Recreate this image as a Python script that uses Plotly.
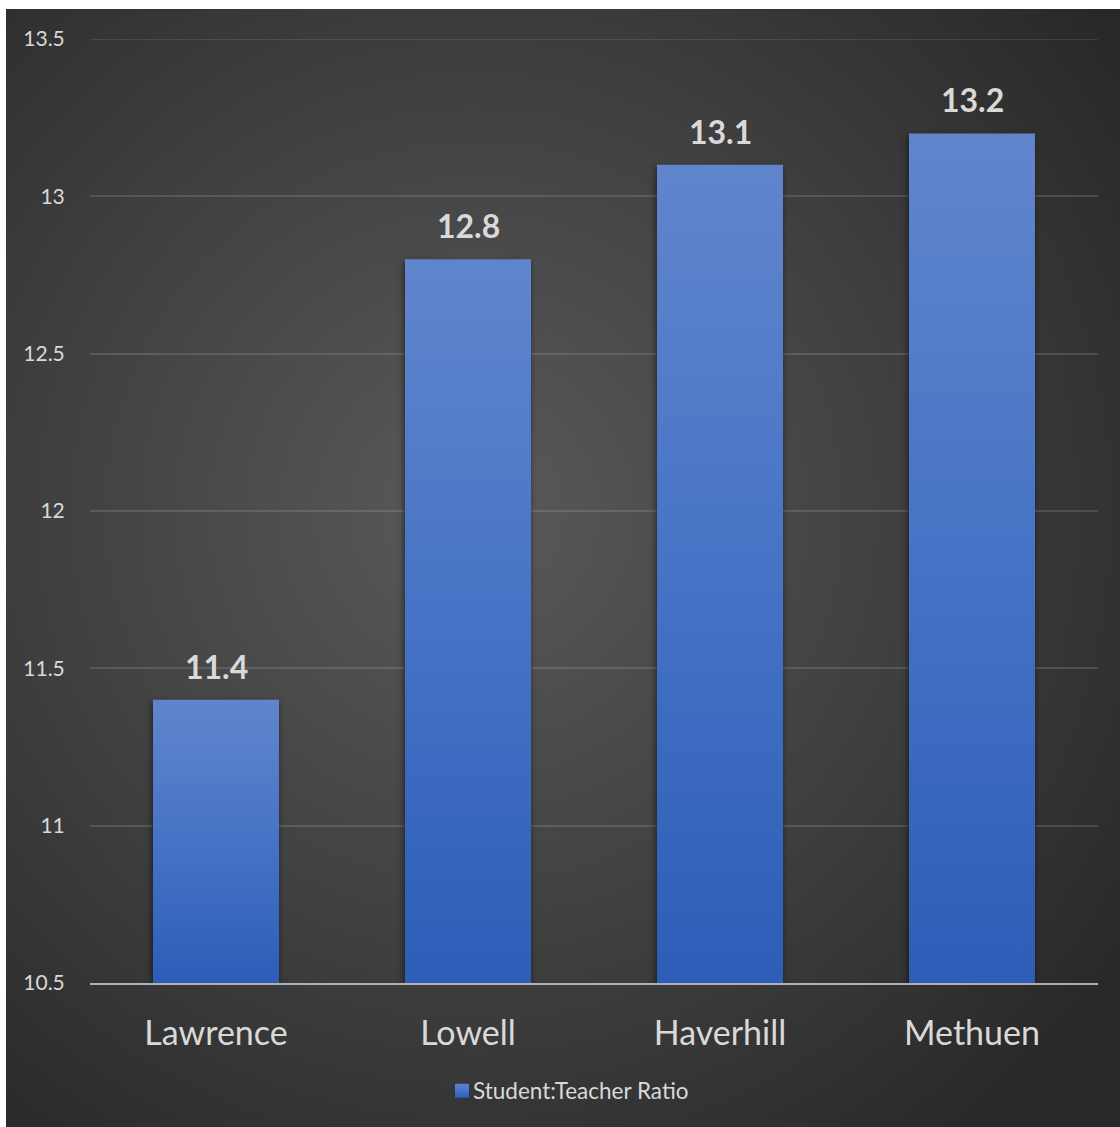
import base64
import plotly.graph_objects as go

# ---- data ----
categories = ["Lawrence", "Lowell", "Haverhill", "Methuen"]
ratios = [11.4, 12.8, 13.1, 13.2]
series_name = "Student:Teacher Ratio"
y_ticks = [10.5, 11, 11.5, 12, 12.5, 13, 13.5]
y_tick_labels = ["10.5", "11", "11.5", "12", "12.5", "13", "13.5"]

W, H = 1120, 1127
L, R, T, B = 90, 22, 39, 144
pw, ph = W - L - R, H - T - B

FONT = "Lato, 'Open Sans', sans-serif"
TXT = "#d9d9d9"
GRID = "rgba(217,217,217,0.16)"

bg_svg = (
    '<svg xmlns="http://www.w3.org/2000/svg" width="1114" height="1118" viewBox="0 0 1114 1118" preserveAspectRatio="none">'
    '<defs><radialGradient id="g" cx="0.42" cy="0.45" r="0.72" gradientUnits="objectBoundingBox">'
    '<stop offset="0" stop-color="#5a5a5a"/><stop offset="0.55" stop-color="#3f3f3f"/>'
    '<stop offset="1" stop-color="#282828"/></radialGradient></defs>'
    '<rect x="0" y="0" width="1114" height="1118" fill="url(#g)"/></svg>'
)
bg_uri = "data:image/svg+xml;base64," + base64.b64encode(bg_svg.encode()).decode()

fig = go.Figure()
fig.add_trace(go.Bar(
    x=categories, y=ratios, name=series_name,
    marker=dict(color="#4472c4", line=dict(width=0)),
    width=0.5, showlegend=True,
))

for c, v in zip(categories, ratios):
    fig.add_annotation(
        x=c, y=v, text=f"{v}", showarrow=False, yanchor="bottom", yshift=12,
        font=dict(family=FONT, size=32, color=TXT, weight="bold"),
    )

fig.add_shape(type="line", xref="paper", yref="y", x0=0, x1=1,
              y0=y_ticks[-1], y1=y_ticks[-1], line=dict(color=GRID, width=1.5),
              layer="below")

x0 = (6 - L) / pw
x1 = (W - L) / pw
ytop = 1 + (T - 9) / ph
ybot = -(H - T - ph) / ph
fig.add_layout_image(
    source=bg_uri, xref="paper", yref="paper", x=x0, y=ytop,
    sizex=x1 - x0, sizey=ytop - ybot, xanchor="left", yanchor="top",
    sizing="stretch", layer="below",
)

fig.update_layout(
    width=W, height=H,
    margin=dict(l=L, r=R, t=T, b=B),
    paper_bgcolor="white", plot_bgcolor="rgba(0,0,0,0)",
    font=dict(family=FONT, color=TXT),
    showlegend=True,
    legend=dict(orientation="h", x=(433 - L) / pw, xanchor="left",
                y=-(1091 - (T + ph)) / ph, yanchor="middle",
                font=dict(family=FONT, size=22.5, color=TXT),
                bgcolor="rgba(0,0,0,0)"),
    xaxis=dict(
        showgrid=False, showline=True, linecolor="rgba(217,217,217,0.75)", linewidth=2,
        ticks="outside", ticklen=19, tickcolor="rgba(0,0,0,0)",
        tickfont=dict(family=FONT, size=34, color=TXT),
        range=[-0.5, 3.5], fixedrange=True,
    ),
    yaxis=dict(
        range=[10.5, 13.5], tickvals=y_ticks, ticktext=y_tick_labels,
        showgrid=True, gridcolor=GRID, gridwidth=1.5,
        zeroline=False, showline=False,
        ticks="outside", ticklen=20, tickcolor="rgba(0,0,0,0)",
        tickfont=dict(family=FONT, size=21, color=TXT),
    ),
    bargap=0.5,
)

post = """
var gd = document.getElementById('{plot_id}');
var TOP = '#6185cc', MID = '#4673c6', BOT = '#2d5db7';
function mkGrad(ns, defs, id, units, y1, y2){
  var old = document.getElementById(id); if (old) old.remove();
  var lg = document.createElementNS(ns, 'linearGradient');
  lg.setAttribute('id', id);
  lg.setAttribute('gradientUnits', units);
  lg.setAttribute('x1', '0'); lg.setAttribute('x2', '0');
  lg.setAttribute('y1', String(y1)); lg.setAttribute('y2', String(y2));
  [['0', TOP], ['0.5', MID], ['1', BOT]].forEach(function(s){
    var st = document.createElementNS(ns, 'stop');
    st.setAttribute('offset', s[0]); st.setAttribute('stop-color', s[1]);
    lg.appendChild(st);
  });
  defs.appendChild(lg);
}
function styleBars(){
  var ns = 'http://www.w3.org/2000/svg';
  var svg = gd.querySelector('svg.main-svg');
  var defs = svg.querySelector('defs');
  var bottom = gd._fullLayout.yaxis._length;
  if (!document.getElementById('barshadow')) {
    var f = document.createElementNS(ns, 'filter');
    f.setAttribute('id', 'barshadow');
    f.setAttribute('x', '-20%'); f.setAttribute('y', '-20%');
    f.setAttribute('width', '140%'); f.setAttribute('height', '140%');
    f.setAttribute('color-interpolation-filters', 'sRGB');
    var ds = document.createElementNS(ns, 'feDropShadow');
    ds.setAttribute('dx', '-1'); ds.setAttribute('dy', '3');
    ds.setAttribute('stdDeviation', '3');
    ds.setAttribute('flood-color', '#000'); ds.setAttribute('flood-opacity', '0.55');
    f.appendChild(ds);
    defs.appendChild(f);
  }
  gd.querySelectorAll('.bars .point path').forEach(function(p, i){
    var nums = (p.getAttribute('d') || '').match(/-?[0-9.]+(e-?[0-9]+)?/g) || [];
    var ys = [parseFloat(nums[1]), parseFloat(nums[2])];
    var top = Math.min(ys[0], ys[1]);
    var id = 'bargrad' + i;
    mkGrad(ns, defs, id, 'userSpaceOnUse', top, bottom);
    p.style.fill = 'url(#' + id + ')';
    p.style.filter = 'url(#barshadow)';
  });
  mkGrad(ns, defs, 'leggrad', 'objectBoundingBox', 0, 1);
  gd.querySelectorAll('.legend .legendpoints path').forEach(function(p){
    p.setAttribute('d', 'M16,7H2V-7H16Z');
    p.style.fill = 'url(#leggrad)';
  });
}
styleBars();
gd.on('plotly_afterplot', styleBars);
"""

fig.write_html("out.html", post_script=post)
